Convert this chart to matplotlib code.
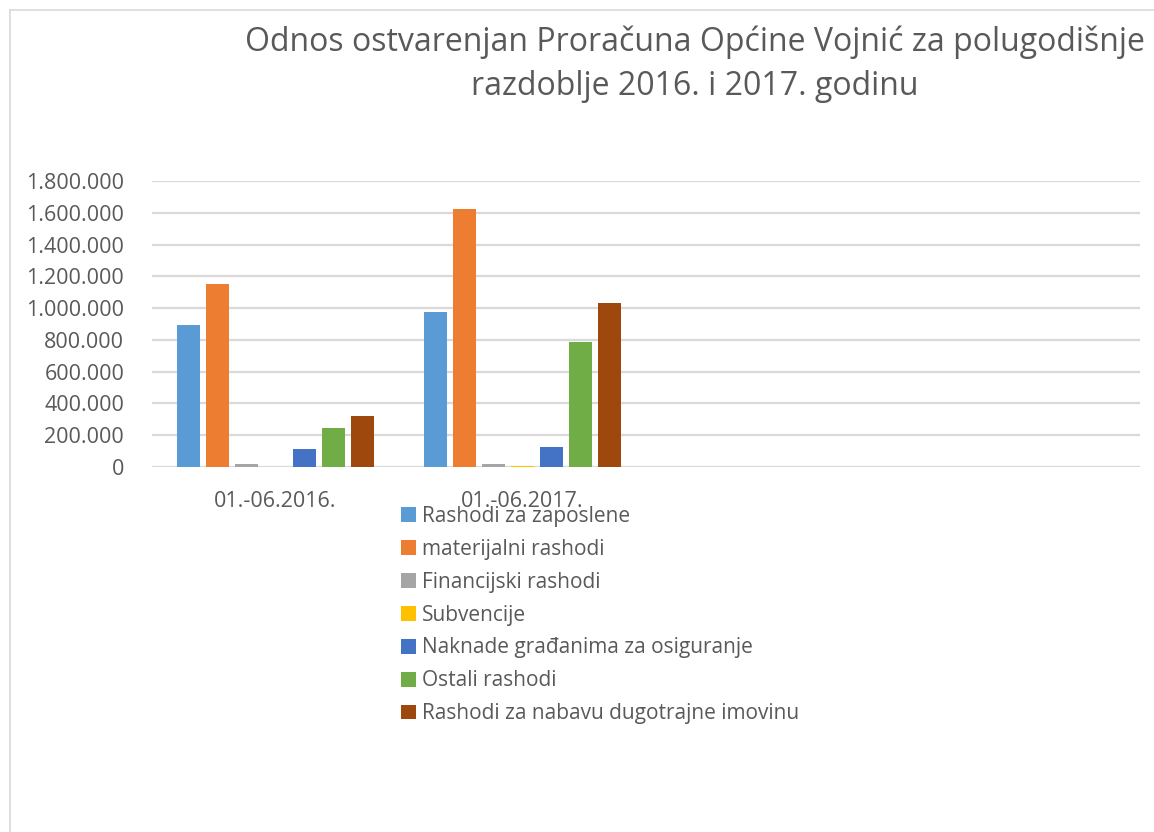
import matplotlib
matplotlib.use("Agg")
import matplotlib.pyplot as plt
from matplotlib.lines import Line2D
from matplotlib.ticker import FuncFormatter, FixedLocator

plt.rcParams['font.family'] = ['Open Sans', 'DejaVu Sans']

categories = ["01.-06.2016.", "01.-06.2017.", "", ""]
series_names = ["Rashodi za zaposlene", "materijalni rashodi", "Financijski rashodi",
                "Subvencije", "Naknade građanima za osiguranje", "Ostali rashodi",
                "Rashodi za nabavu dugotrajne imovinu"]
values_2016 = [895000, 1152000, 20000, 0, 115000, 248000, 318000]
values_2017 = [975000, 1622000, 20000, 6000, 126000, 788000, 1033000]
colors = ["#5B9BD5", "#ED7D31", "#A5A5A5", "#FFC000", "#4472C4", "#70AD47", "#9E480E"]
yticks = [0, 200000, 400000, 600000, 800000, 1000000, 1200000, 1400000, 1600000, 1800000]
title = "Odnos ostvarenjan Proračuna Općine Vojnić za polugodišnje\nrazdoblje 2016. i 2017. godinu"

W, H = 1154, 832
fig = plt.figure(figsize=(W / 100, H / 100), dpi=100)
txt = "#595959"
grid = "#D9D9D9"

ax = fig.add_axes([152 / W, (H - 467) / H, 988 / W, 286 / H])
step = 29 / 247
width = 22.3 / 247
data = [values_2016, values_2017]
handles = []
for i, (name, col) in enumerate(zip(series_names, colors)):
    xs = [c + (i - 3) * step for c in range(len(data))]
    ys = [d[i] for d in data]
    b = ax.bar(xs, ys, width=width, color=col, edgecolor="none",
               label=name, zorder=3)
    handles.append(b)

ax.set_xlim(-0.5, len(categories) - 0.5)
ax.set_ylim(0, 1800000)
ax.yaxis.set_major_locator(FixedLocator(yticks))
ax.yaxis.set_major_formatter(FuncFormatter(lambda v, p: f"{int(v):,}".replace(",", ".")))
ax.set_xticks(range(len(categories)))
ax.set_xticklabels(categories)
ax.grid(axis="y", color=grid, linewidth=1.6, zorder=0)
for s in ax.spines.values():
    s.set_visible(False)
ax.tick_params(axis="both", length=0, labelsize=15.5, colors=txt)
ax.tick_params(axis="y", pad=20)
ax.tick_params(axis="x", pad=17)

fig.text(695 / W, 1 - 64 / H, title, ha="center", va="center", fontsize=23,
         color=txt, linespacing=1.45)

leg = fig.legend(handles=handles, loc="upper left",
                 bbox_to_anchor=(401 / W, 1 - 506 / H), frameon=False,
                 fontsize=15, handlelength=0.72, handleheight=0.72,
                 handletextpad=0.3, labelspacing=0.57, borderaxespad=0,
                 borderpad=0)
for t in leg.get_texts():
    t.set_color(txt)

# outer chart border (top and left visible)
fig.add_artist(Line2D([10 / W, 1], [1 - 10 / H, 1 - 10 / H], color=grid, linewidth=1.2,
                      transform=fig.transFigure))
fig.add_artist(Line2D([10 / W, 10 / W], [0, 1 - 10 / H], color=grid, linewidth=1.2,
                      transform=fig.transFigure))

fig.savefig("out.png", dpi=100, facecolor="white")
